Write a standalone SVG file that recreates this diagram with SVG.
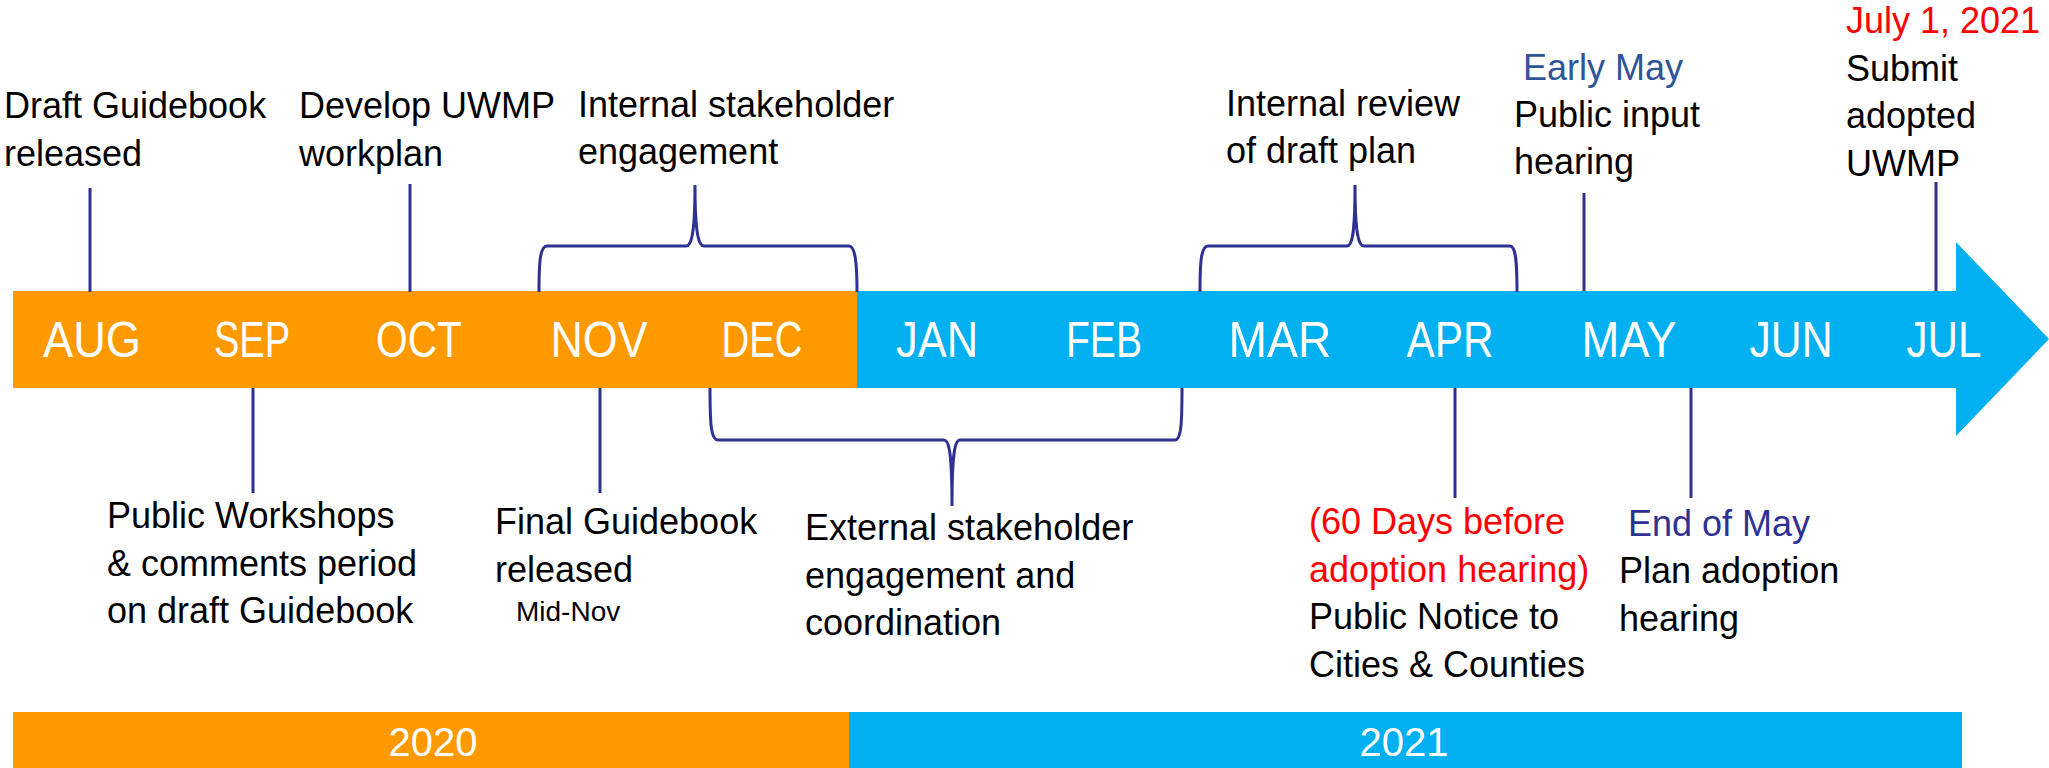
<svg xmlns="http://www.w3.org/2000/svg" width="2049" height="768" viewBox="0 0 2049 768">
<style>
.t{font-family:"Liberation Sans",Arial,sans-serif;font-size:36px;fill:#000}
.red{fill:#FF0000}
.eb{fill:#2F5597}
.nv{fill:#2E3192}
.m{font-family:"Liberation Sans",Arial,sans-serif;font-size:50px;fill:#fff;text-anchor:middle}
.y{font-family:"Liberation Sans",Arial,sans-serif;font-size:40px;fill:#fff;text-anchor:middle}
.c{stroke:#2E3192;stroke-width:3;fill:none}
</style>
<rect width="2049" height="768" fill="#fff"/>
<g id="timeline">
<rect x="13" y="291" width="845" height="97" fill="#FF9900"/>
<path d="M857,291 H1956 V242 L2049,339 L1956,436 V388 H857 Z" fill="#00B0F0"/>
<text class="m" x="92" y="357" textLength="98" lengthAdjust="spacingAndGlyphs">AUG</text>
<text class="m" x="252" y="357" textLength="76" lengthAdjust="spacingAndGlyphs">SEP</text>
<text class="m" x="419" y="357" textLength="86" lengthAdjust="spacingAndGlyphs">OCT</text>
<text class="m" x="599" y="357" textLength="97" lengthAdjust="spacingAndGlyphs">NOV</text>
<text class="m" x="762" y="357" textLength="81" lengthAdjust="spacingAndGlyphs">DEC</text>
<text class="m" x="937" y="357" textLength="82" lengthAdjust="spacingAndGlyphs">JAN</text>
<text class="m" x="1104" y="357" textLength="76" lengthAdjust="spacingAndGlyphs">FEB</text>
<text class="m" x="1280" y="357" textLength="103" lengthAdjust="spacingAndGlyphs">MAR</text>
<text class="m" x="1450" y="357" textLength="87" lengthAdjust="spacingAndGlyphs">APR</text>
<text class="m" x="1629" y="357" textLength="95" lengthAdjust="spacingAndGlyphs">MAY</text>
<text class="m" x="1791" y="357" textLength="83" lengthAdjust="spacingAndGlyphs">JUN</text>
<text class="m" x="1944" y="357" textLength="75" lengthAdjust="spacingAndGlyphs">JUL</text>
</g>
<g id="years">
<rect x="13" y="712" width="836" height="56" fill="#FF9900"/>
<rect x="849" y="712" width="1113" height="56" fill="#00B0F0"/>
<text class="y" x="433" y="756">2020</text>
<text class="y" x="1404" y="756">2021</text>
</g>
<g id="connectors">
<line class="c" x1="90" y1="188" x2="90" y2="292"/>
<line class="c" x1="410" y1="184" x2="410" y2="292"/>
<line class="c" x1="1584" y1="193" x2="1584" y2="291"/>
<line class="c" x1="1936" y1="182" x2="1936" y2="291"/>
<line class="c" x1="253" y1="388" x2="253" y2="493"/>
<line class="c" x1="600" y1="388" x2="600" y2="493"/>
<line class="c" x1="1455" y1="388" x2="1455" y2="498"/>
<line class="c" x1="1691" y1="388" x2="1691" y2="498"/>
<path class="c" d="M539,292 C539,262 540,246 547,246 L686,246 C691,246 695,236 695,185 C695,236 699,246 704,246 L849,246 C855,246 857,262 857,292"/>
<path class="c" d="M1200,292 C1200,262 1201,246 1208,246 L1347,246 C1352,246 1355,236 1355,185 C1355,236 1359,246 1364,246 L1510,246 C1516,246 1517,262 1517,292"/>
<path class="c" d="M710,388 C710,425 711,440 718,440 L944,440 C949,440 952,452 952,506 C952,452 955,440 960,440 L1175,440 C1181,440 1182,425 1182,388"/>
</g>
<g id="draft-guidebook">
<text class="t" x="4" y="118">Draft Guidebook</text>
<text class="t" x="4" y="166">released</text>
</g>
<g id="develop-uwmp">
<text class="t" x="299" y="118">Develop UWMP</text>
<text class="t" x="299" y="166">workplan</text>
</g>
<g id="internal-stakeholder">
<text class="t" x="578" y="117">Internal stakeholder</text>
<text class="t" x="578" y="164">engagement</text>
</g>
<g id="internal-review">
<text class="t" x="1226" y="116">Internal review</text>
<text class="t" x="1226" y="163">of draft plan</text>
</g>
<g id="public-input">
<text class="t eb" x="1523" y="80">Early May</text>
<text class="t" x="1514" y="127">Public input</text>
<text class="t" x="1514" y="174">hearing</text>
</g>
<g id="submit">
<text class="t red" x="1846" y="33">July 1, 2021</text>
<text class="t" x="1846" y="81">Submit</text>
<text class="t" x="1846" y="128">adopted</text>
<text class="t" x="1846" y="176">UWMP</text>
</g>
<g id="public-workshops">
<text class="t" x="107" y="528">Public Workshops</text>
<text class="t" x="107" y="576">&amp; comments period</text>
<text class="t" x="107" y="623">on draft Guidebook</text>
</g>
<g id="final-guidebook">
<text class="t" x="495" y="534">Final Guidebook</text>
<text class="t" x="495" y="582">released</text>
<text class="t" x="516" y="621" style="font-size:28px">Mid-Nov</text>
</g>
<g id="external-stakeholder">
<text class="t" x="805" y="540">External stakeholder</text>
<text class="t" x="805" y="588">engagement and</text>
<text class="t" x="805" y="635">coordination</text>
</g>
<g id="public-notice">
<text class="t red" x="1309" y="534">(60 Days before</text>
<text class="t red" x="1309" y="582">adoption hearing)</text>
<text class="t" x="1309" y="629">Public Notice to</text>
<text class="t" x="1309" y="677">Cities &amp; Counties</text>
</g>
<g id="plan-adoption">
<text class="t nv" x="1628" y="536">End of May</text>
<text class="t" x="1619" y="583">Plan adoption</text>
<text class="t" x="1619" y="631">hearing</text>
</g>
</svg>
